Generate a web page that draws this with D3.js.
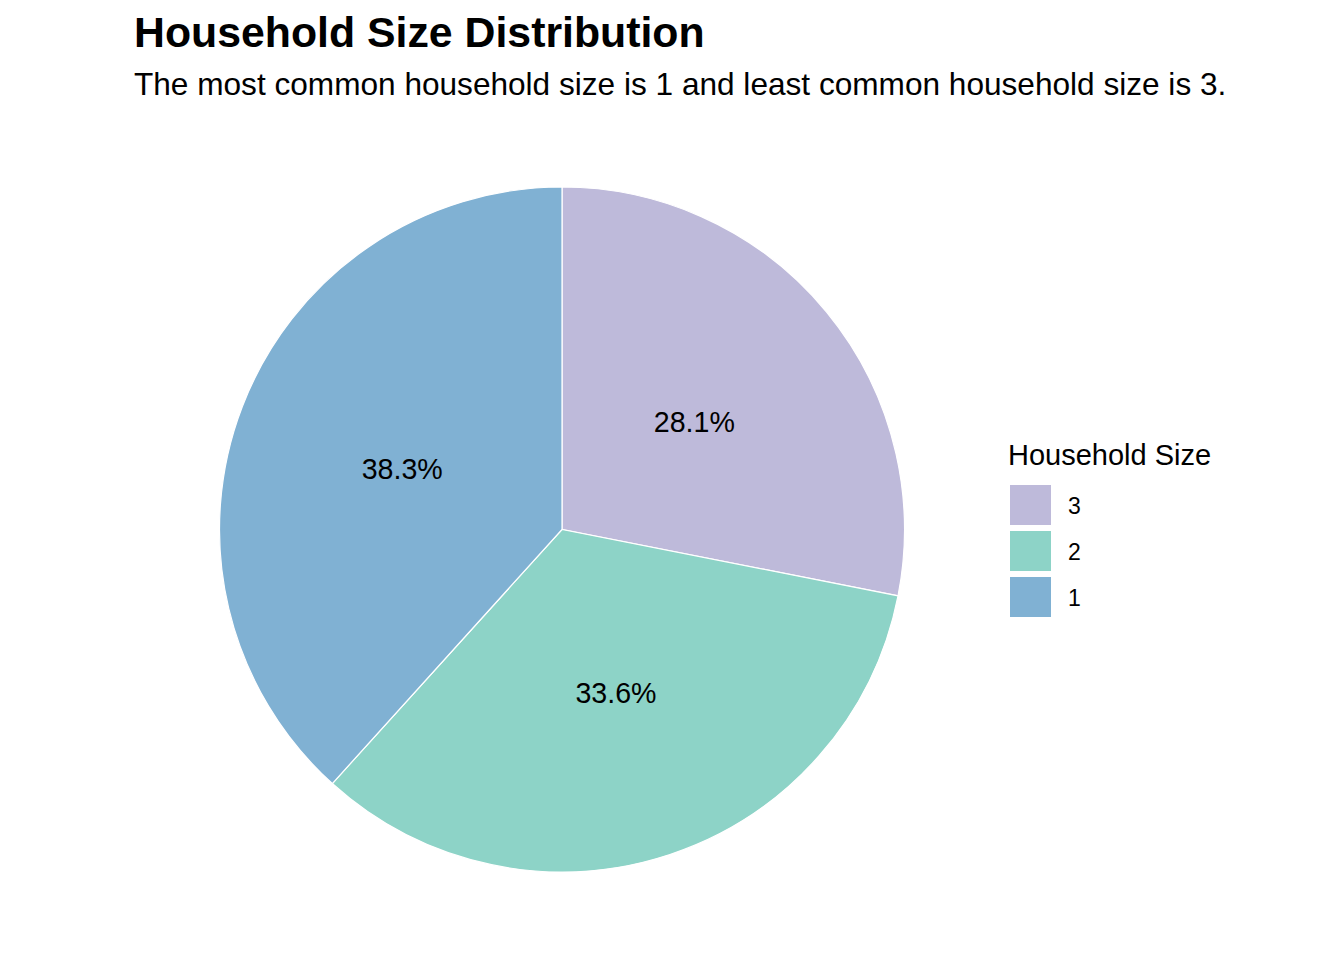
<!DOCTYPE html>
<html>
<head>
<meta charset="utf-8">
<script src="https://cdn.jsdelivr.net/npm/d3@7"></script>
<style>
  html, body { margin: 0; padding: 0; background: #fff; }
  svg { display: block; font-family: "Liberation Sans", Arial, sans-serif; }
</style>
</head>
<body>
<div id="chart"></div>
<script>
// household sizes, in the order ggplot stacks them (clockwise from 12 o'clock)
const SIZES = ["3", "2", "1"];
const SHARES = [28.1, 33.6, 38.3];
const COLORS = ["#BEBADA", "#8DD3C7", "#80B1D3"];

const width = 1344, height = 960;
const cx = 562, cy = 529.5, radius = 342.5;

const svg = d3.select("#chart").append("svg")
  .attr("width", width)
  .attr("height", height);

svg.append("text")
  .attr("x", 134).attr("y", 47)
  .attr("font-size", "42.8px").attr("font-weight", "bold")
  .text("Household Size Distribution");

svg.append("text")
  .attr("x", 134).attr("y", 95)
  .attr("font-size", "31.6px")
  .text("The most common household size is 1 and least common household size is 3.");

const data = SIZES.map((s, i) => ({ size: s, value: SHARES[i] }));
const color = d3.scaleOrdinal().domain(SIZES).range(COLORS);

const pie = d3.pie().value(d => d.value).sort(null);
const arc = d3.arc().innerRadius(0).outerRadius(radius);
const labelArc = d3.arc().innerRadius(radius / 2).outerRadius(radius / 2);

const g = svg.append("g").attr("transform", `translate(${cx},${cy})`);
const arcs = pie(data);

g.selectAll("path")
  .data(arcs)
  .join("path")
  .attr("d", arc)
  .attr("fill", d => color(d.data.size))
  .attr("stroke", "#fff")
  .attr("stroke-width", 1.2);

g.selectAll("text")
  .data(arcs)
  .join("text")
  .attr("transform", d => `translate(${labelArc.centroid(d)})`)
  .attr("text-anchor", "middle")
  .attr("dy", "0.38em")
  .attr("font-size", "28.6px")
  .text(d => d.data.value.toFixed(1) + "%");

// legend
const legend = svg.append("g").attr("transform", "translate(1008,0)");
legend.append("text")
  .attr("x", 0).attr("y", 465)
  .attr("font-size", "29px")
  .text("Household Size");

const keys = legend.selectAll("g.key")
  .data(SIZES)
  .join("g")
  .attr("class", "key")
  .attr("transform", (d, i) => `translate(2,${485 + i * 46})`);

keys.append("rect")
  .attr("width", 41).attr("height", 40)
  .attr("fill", d => color(d));

keys.append("text")
  .attr("x", 58).attr("y", 21)
  .attr("dy", "0.36em")
  .attr("font-size", "23px")
  .text(d => d);
</script>
</body>
</html>
